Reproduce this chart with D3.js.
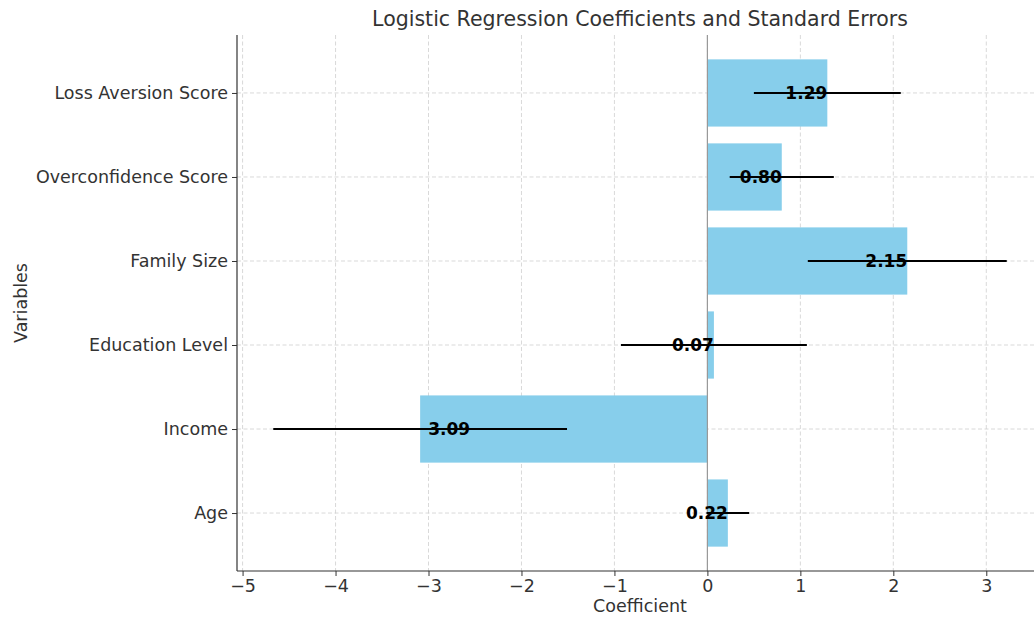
<!DOCTYPE html>
<html><head><meta charset="utf-8">
<script src="https://cdn.jsdelivr.net/npm/d3@7"></script>
<style>body{margin:0;background:#fff;}svg{display:block;font-family:"DejaVu Sans",sans-serif;}</style>
</head><body>
<svg id="c" width="1034" height="617"></svg>
<script>
const categories = ["Age","Income","Education Level","Family Size","Overconfidence Score","Loss Aversion Score"];
const coefficients = [0.22,-3.09,0.07,2.15,0.80,1.29];
const stdErrors = [0.23,1.58,1.00,1.07,0.56,0.79];
const xTicks = [-5,-4,-3,-2,-1,0,1,2,3];

const svg = d3.select("#c");
const L=237, R=1043, T=35, B=571;
const x = d3.scaleLinear().domain([-5.06,3.61]).range([L,R]);
const y = d3.scaleLinear().domain([-0.69,5.69]).range([B,T]);
const bandH = y(0)-y(0.8);

const g = svg.append("g");
// grid
g.selectAll(".vg").data(xTicks).enter().append("line")
 .attr("x1",d=>x(d)).attr("x2",d=>x(d)).attr("y1",T).attr("y2",B)
 .attr("stroke","#cfcfcf").attr("stroke-width",0.8).attr("stroke-dasharray","4,2.5");
g.selectAll(".hg").data(categories).enter().append("line")
 .attr("x1",L).attr("x2",R).attr("y1",(d,i)=>y(i)).attr("y2",(d,i)=>y(i))
 .attr("stroke","#cfcfcf").attr("stroke-width",0.8).attr("stroke-dasharray","4,2.5");
// bars
g.selectAll(".bar").data(coefficients).enter().append("rect")
 .attr("x",d=>Math.min(x(0),x(d))).attr("width",d=>Math.abs(x(d)-x(0)))
 .attr("y",(d,i)=>y(i+0.4)).attr("height",bandH).attr("fill","#87CEEB");
// zero line
g.append("line").attr("x1",x(0)).attr("x2",x(0)).attr("y1",T).attr("y2",B)
 .attr("stroke","#999").attr("stroke-width",1.2);
// error bars
g.selectAll(".err").data(coefficients).enter().append("line")
 .attr("x1",(d,i)=>x(d-stdErrors[i])).attr("x2",(d,i)=>x(d+stdErrors[i]))
 .attr("y1",(d,i)=>y(i)).attr("y2",(d,i)=>y(i))
 .attr("stroke","#000").attr("stroke-width",2);
// labels
g.selectAll(".lab").data(coefficients).enter().append("text")
 .attr("x",d=>d<0? x(d)+8 : x(d)).attr("y",(d,i)=>y(i)+6)
 .attr("text-anchor",d=>d<0?"start":"end")
 .attr("font-weight","bold").attr("font-size",17).attr("fill","#000")
 .text(d=>Math.abs(d).toFixed(2));

// axes
const xAxis = d3.axisBottom(x).tickValues(xTicks).tickSize(5).tickPadding(4)
 .tickFormat(d=>d<0?"\u2212"+Math.abs(d):d);
const xg = svg.append("g").attr("transform",`translate(0,${B})`).call(xAxis);
xg.select(".domain").attr("stroke","#333").attr("stroke-width",1.2).attr("d",`M${L},0H${R}`);
xg.selectAll(".tick line").attr("stroke","#333");
xg.selectAll("text").attr("font-size",17.5).attr("fill","#333").attr("font-family","DejaVu Sans");

const yAxis = d3.axisLeft(y).tickValues(d3.range(categories.length)).tickSize(5).tickPadding(4)
 .tickFormat(i=>categories[i]);
const yg = svg.append("g").attr("transform",`translate(${L},0)`).call(yAxis);
yg.select(".domain").attr("stroke","#333").attr("stroke-width",1.2).attr("d",`M0,${T}V${B}`);
yg.selectAll(".tick line").attr("stroke","#333");
yg.selectAll("text").attr("font-size",17.5).attr("fill","#333").attr("font-family","DejaVu Sans");

svg.append("text").attr("x",(L+R)/2).attr("y",26).attr("text-anchor","middle")
 .attr("font-size",20.5).attr("fill","#333").text("Logistic Regression Coefficients and Standard Errors");
svg.append("text").attr("x",(L+R)/2).attr("y",612).attr("text-anchor","middle")
 .attr("font-size",17.5).attr("fill","#333").text("Coefficient");
svg.append("text").attr("transform",`translate(27,${(T+B)/2}) rotate(-90)`).attr("text-anchor","middle")
 .attr("font-size",17.5).attr("fill","#333").text("Variables");
</script>
</body></html>
